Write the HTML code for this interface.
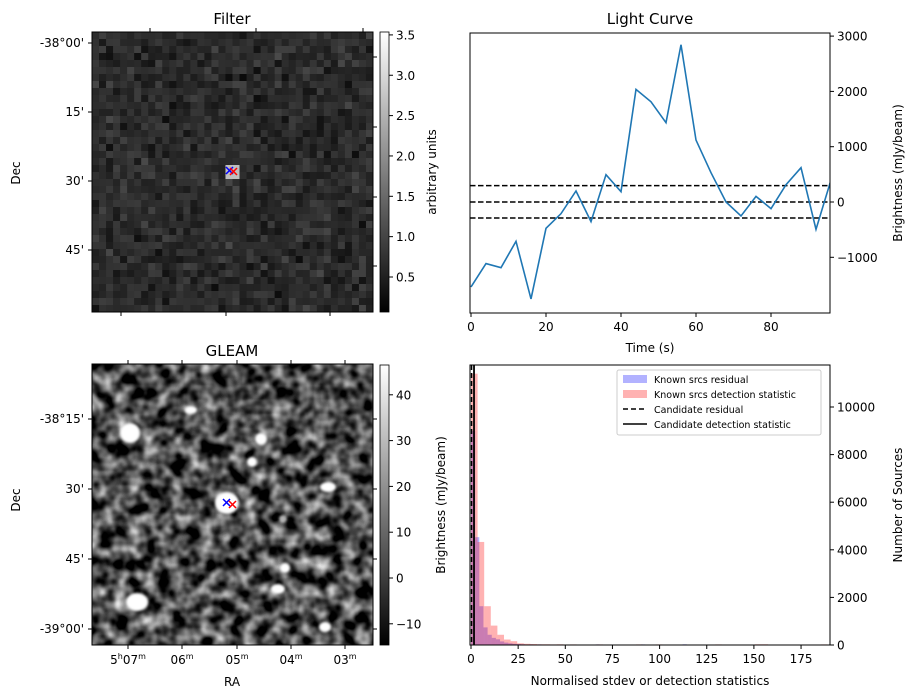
<!DOCTYPE html>
<html><head><meta charset="utf-8"><style>
html,body{margin:0;padding:0;background:#fff;}
svg{display:block;font-family:"DejaVu Sans","Liberation Sans",sans-serif;}
</style></head><body>
<svg id="fig" width="916" height="699" viewBox="0 0 916 699" xmlns="http://www.w3.org/2000/svg">
<defs>
<linearGradient id="gray" x1="0" y1="1" x2="0" y2="0"><stop offset="0" stop-color="#000"/><stop offset="1" stop-color="#fff"/></linearGradient>
<clipPath id="gclip"><rect x="92" y="364" width="281" height="281"/></clipPath>
<filter id="noise" x="0" y="0" width="100%" height="100%" color-interpolation-filters="sRGB">
<feTurbulence type="fractalNoise" baseFrequency="0.07" numOctaves="2" seed="7"/>
<feColorMatrix type="matrix" values="1.6 0 0 0 -0.5  1.6 0 0 0 -0.5  1.6 0 0 0 -0.5  0 0 0 0 1"/>
</filter>
<filter id="blur"><feGaussianBlur stdDeviation="1.2"/></filter>
</defs>

<!-- Filter panel -->
<text x="232" y="24" font-size="15" text-anchor="middle">Filter</text>
<g id="filterImg"></g>
<rect x="92" y="32" width="281" height="280" fill="none" stroke="#000" stroke-width="1"/>
<g font-size="12" text-anchor="end">
<text x="84" y="47">-38°00'</text><text x="84" y="116">15'</text><text x="84" y="185">30'</text><text x="84" y="254">45'</text>
<path d="M88 43H92M88 112H92M88 181H92M88 250H92M373 57h4M373 127h4M373 197h4M373 266h4M150 32v-4M256 32v-4M363 32v-4M121 312v4M226 312v4M330 312v4" stroke="#000"/>
</g>
<text transform="translate(20,173) rotate(-90)" font-size="12" text-anchor="middle">Dec</text>
<rect x="380" y="32" width="9" height="280" fill="url(#gray)" stroke="#000" stroke-width="0.8"/>
<g id="fcb" font-size="12"></g>
<text transform="translate(436,172) rotate(-90)" font-size="12" text-anchor="middle">arbitrary units</text>

<!-- GLEAM -->
<text x="232" y="356" font-size="15" text-anchor="middle">GLEAM</text>
<g clip-path="url(#gclip)">
<rect x="92" y="364" width="281" height="281" fill="#555" filter="url(#noise)"/>
<g fill="#fff" filter="url(#blur)">
<ellipse cx="130" cy="433" rx="10" ry="10"/><ellipse cx="137" cy="602" rx="11" ry="9"/>
<ellipse cx="227" cy="503" rx="12" ry="11"/><ellipse cx="191" cy="410" rx="6" ry="4"/>
<ellipse cx="261" cy="439" rx="6" ry="6"/><ellipse cx="252" cy="462" rx="5" ry="5"/>
<ellipse cx="328" cy="487" rx="8" ry="5"/><ellipse cx="285" cy="568" rx="5" ry="5"/>
<ellipse cx="278" cy="589" rx="7" ry="5"/><ellipse cx="325" cy="627" rx="6" ry="5"/>
<ellipse cx="283" cy="519" rx="4" ry="4" opacity="0.7"/>
</g>
</g>
<rect x="92" y="364" width="281" height="281" fill="none" stroke="#000"/>
<g font-size="12">
<g text-anchor="end"><text x="84" y="423">-38°15'</text><text x="84" y="493">30'</text><text x="84" y="563">45'</text><text x="84" y="633">-39°00'</text></g>
<path d="M88 419H92M88 489H92M88 559H92M88 629H92M373 419h4M373 489h4M373 559h4M373 629h4M128 645v4M182 645v4M237 645v4M291 645v4M345 645v4M128 364v-4M182 364v-4M237 364v-4M291 364v-4M345 364v-4" stroke="#000"/>
<g text-anchor="middle"><text x="128" y="664">5<tspan font-size="8" dy="-5">h</tspan><tspan dy="5">07</tspan><tspan font-size="8" dy="-5">m</tspan></text>
<text x="182" y="664">06<tspan font-size="8" dy="-5">m</tspan></text><text x="237" y="664">05<tspan font-size="8" dy="-5">m</tspan></text>
<text x="291" y="664">04<tspan font-size="8" dy="-5">m</tspan></text><text x="345" y="664">03<tspan font-size="8" dy="-5">m</tspan></text></g>
</g>
<text x="232" y="686" font-size="12" text-anchor="middle">RA</text>
<text transform="translate(20,500) rotate(-90)" font-size="12" text-anchor="middle">Dec</text>
<g stroke-width="1.5">
<path d="M223 499l7 7M230 499l-7 7" stroke="#00f"/><path d="M229 501l7 7M236 501l-7 7" stroke="#f00"/>
</g>
<rect x="380" y="365" width="9" height="280" fill="url(#gray)" stroke="#000" stroke-width="0.8"/>
<g id="gcb" font-size="12"></g>
<text transform="translate(445,505) rotate(-90)" font-size="12" text-anchor="middle">Brightness (mJy/beam)</text>

<!-- Light curve -->
<text x="650" y="24" font-size="15" text-anchor="middle">Light Curve</text>
<g id="lc"></g>
<rect x="470" y="33" width="360" height="280" fill="none" stroke="#000"/>
<text x="650" y="352" font-size="12" text-anchor="middle">Time (s)</text>
<text transform="translate(902,173) rotate(-90)" font-size="12" text-anchor="middle">Brightness (mJy/beam)</text>

<!-- Histogram -->
<g id="hist"></g>
<rect x="470" y="365" width="360" height="280" fill="none" stroke="#000"/>
<text x="650" y="685" font-size="12" text-anchor="middle">Normalised stdev or detection statistics</text>
<text transform="translate(902,505) rotate(-90)" font-size="12" text-anchor="middle">Number of Sources</text>
<g font-size="9.5">
<rect x="617" y="370" width="204" height="65" fill="#fff" fill-opacity="0.85" stroke="#ccc" rx="2"/>
<rect x="623" y="375" width="24" height="8" fill="#0000ff" fill-opacity="0.3"/><text x="654" y="383">Known srcs residual</text>
<rect x="623" y="390" width="24" height="8" fill="#ff0000" fill-opacity="0.3"/><text x="654" y="398">Known srcs detection statistic</text>
<path d="M623 409h24" stroke="#000" stroke-width="1.5" stroke-dasharray="5,3"/><text x="654" y="413">Candidate residual</text>
<path d="M623 424h24" stroke="#000" stroke-width="1.5"/><text x="654" y="428">Candidate detection statistic</text>
</g>
</svg>
<script>
// Light curve data
const lcTimes=[0,4,8,12,16,20,24,28,32,36,40,44,48,52,56,60,64,68,72,76,80,84,88,92,96];
const lcValues=[-1536,-1114,-1187,-711,-1753,-476,-211,199,-355,494,187,2036,1813,1434,2843,1120,530,0,-253,102,-120,313,620,-494,398];
const lcThresholds=[295,0,-289];
const lcXTicks=[0,20,40,60,80];
const lcYTicks=[-1000,0,1000,2000,3000];
// Histogram data
const redStarts=[0,3.5,7,10.5,14,17.5,21,24.5,28,31.5,35,38.5,42,45.5,49,52.5,63,66.5,73.5,77,84,87.5,91,98,105,129.5,150.5,154,185.5];
const redCounts=[11400,4330,1630,815,430,230,160,70,50,40,30,30,25,30,20,25,20,25,20,20,20,25,20,25,20,25,30,30,25];
const blueStarts=[0,2.2,4.4,6.6,8.8,11,13.2,15.4,17.6,19.8,22,24.2,26.4,30.8,35.2,41.8,48.4,66,83.6,90.2,112.2];
const blueCounts=[9000,4530,1630,740,430,300,240,150,100,70,50,40,30,25,25,20,20,25,20,25,30];
const candResidual=[0.3];
const candDetection=[1.6];
const histXTicks=[0,25,50,75,100,125,150,175];
const histYTicks=[0,2000,4000,6000,8000,10000];
const filterCbTicks=[0.5,1.0,1.5,2.0,2.5,3.0,3.5];
const gleamCbTicks=[-10,0,10,20,30,40];

const NS="http://www.w3.org/2000/svg";
function mk(tag,attrs,parent){const e=document.createElementNS(NS,tag);for(const k in attrs)e.setAttribute(k,attrs[k]);parent.appendChild(e);return e;}

// Filter image (pixel noise texture)
(function(){
  const g=document.getElementById('filterImg');
  let s=12345;function rnd(){s=(s*1103515245+12345)%2147483648;return s/2147483648;}
  const n=40,w=281/n,h=280/n;
  for(let i=0;i<n;i++)for(let j=0;j<n;j++){
    let v=(rnd()+rnd()+rnd())/3; let gv=Math.round(8+v*70);
    if(Math.abs(j-19.6)<1.3&&Math.abs(i-19.3)<1.1) gv=190;
    mk('rect',{x:92+j*w,y:32+i*h,width:w+0.5,height:h+0.5,fill:`rgb(${gv},${gv},${gv})`},g);
  }
  const m=mk('g',{'stroke-width':1.5},g);
  
  
  mk('path',{d:'M226 167l7 7M233 167l-7 7',stroke:'#00f'},m);
  mk('path',{d:'M230 168l7 7M237 168l-7 7',stroke:'#f00'},m);
})();

// Colorbars
function cb(id,ticks,y0,v0,pxPer,fmt){
  const g=document.getElementById(id);
  ticks.forEach(t=>{const y=y0-(t-v0)*pxPer;
    mk('line',{x1:389,x2:393,y1:y,y2:y,stroke:'#000'},g);
    const tx=mk('text',{x:396,y:y+4.5},g);tx.textContent=fmt(t);
    
    });
}
cb('fcb',filterCbTicks,277,0.5,80.7,t=>t.toFixed(1));
cb('gcb',gleamCbTicks,578,0,4.58,t=>t<0?'\u2212'+(-t):String(t));

// Light curve
(function(){
  const g=document.getElementById('lc');
  const X=t=>471+t*3.75, Y=v=>202-v*0.0553;
  lcThresholds.forEach(v=>{const l=mk('line',{x1:470,x2:830,y1:Y(v),y2:Y(v),stroke:'#000','stroke-width':1.5,'stroke-dasharray':'5.5,2.5'},g);
    
    });
  const cp=mk('clipPath',{id:'lcclip'},g);mk('rect',{x:470,y:33,width:360,height:280},cp);
  const p=mk('polyline',{points:lcTimes.map((t,i)=>X(t)+','+Y(lcValues[i])).join(' '),fill:'none',stroke:'#1f77b4','stroke-width':1.6,'clip-path':'url(#lcclip)'},g);
  
  
  lcXTicks.forEach(t=>{mk('line',{x1:X(t),x2:X(t),y1:313,y2:317,stroke:'#000'},g);
    const tx=mk('text',{x:X(t),y:331,'font-size':12,'text-anchor':'middle'},g);tx.textContent=t;
    
    });
  lcYTicks.forEach(v=>{mk('line',{x1:830,x2:834,y1:Y(v),y2:Y(v),stroke:'#000'},g);
    const tx=mk('text',{x:837,y:Y(v)+4.5,'font-size':12},g);tx.textContent=v<0?'\u2212'+(-v):v;
    
    });
})();

// Histogram
(function(){
  const g=document.getElementById('hist');
  const X=v=>471+v*1.886, Y=c=>645-c*0.0238;
  blueStarts.forEach((s,i)=>{const r=mk('rect',{x:X(s),y:Y(blueCounts[i]),width:2.2*1.886,height:645-Y(blueCounts[i]),fill:'#0000ff','fill-opacity':0.3},g);
    
    });
  redStarts.forEach((s,i)=>{const r=mk('rect',{x:X(s),y:Y(redCounts[i]),width:3.5*1.886,height:645-Y(redCounts[i]),fill:'#ff0000','fill-opacity':0.3},g);
    
    });
  candResidual.forEach(v=>{const l=mk('line',{x1:X(v),x2:X(v),y1:365,y2:645,stroke:'#000','stroke-width':1.5,'stroke-dasharray':'5,3'},g);
    
    });
  candDetection.forEach(v=>{const l=mk('line',{x1:X(v),x2:X(v),y1:365,y2:645,stroke:'#000','stroke-width':1.8},g);
    
    });
  histXTicks.forEach(t=>{mk('line',{x1:X(t),x2:X(t),y1:645,y2:649,stroke:'#000'},g);
    const tx=mk('text',{x:X(t),y:663,'font-size':12,'text-anchor':'middle'},g);tx.textContent=t;
    
    });
  histYTicks.forEach(c=>{mk('line',{x1:830,x2:834,y1:Y(c),y2:Y(c),stroke:'#000'},g);
    const tx=mk('text',{x:837,y:Y(c)+4.5,'font-size':12},g);tx.textContent=c;
    
    });
})();
</script>
</body></html>
